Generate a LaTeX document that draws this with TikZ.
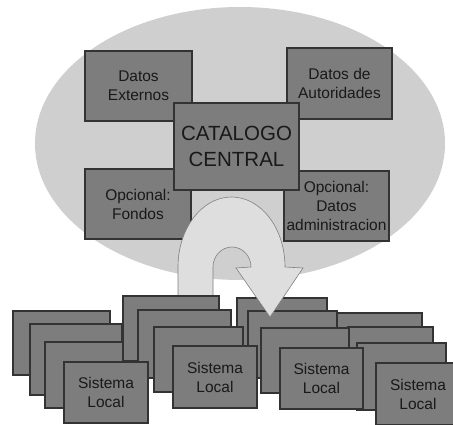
\documentclass[tikz,border=0pt]{standalone}
\usepackage{fontspec}
\setmainfont{Liberation Sans}
\definecolor{ellfill}{gray}{0.81}
\definecolor{arrfill}{gray}{0.87}
\definecolor{arrline}{gray}{0.5}
\definecolor{boxfill}{gray}{0.49}
\definecolor{boxline}{gray}{0.2}
\definecolor{txt}{gray}{0.1}
\begin{document}
\begin{tikzpicture}[x=1pt,y=-1pt,
  box/.style={draw=boxline, fill=boxfill, line width=1.6pt, anchor=north west,
    inner sep=0pt, outer sep=0pt, align=center, text=txt,
    font=\fontsize{15.5}{19}\selectfont},
  bigbox/.style={box, font=\fontsize{20.5}{26}\selectfont},
  arrowshape/.style={fill=arrfill, draw=arrline, line width=0.6pt}
]
\useasboundingbox (0,0) rectangle (453,425);
\fill[white] (0,0) rectangle (453,425);
% background ellipse
\fill[ellfill] (240,143.5) ellipse [x radius=205, y radius=136.5];

% top boxes
\node[box, minimum width=107pt, minimum height=70pt] (ext) at (85,51) {Datos\\Externos};
\node[box, minimum width=105pt, minimum height=71pt] (aut) at (287,48) {Datos de\\Autoridades};
\node[box, minimum width=106pt, minimum height=70pt] (fon) at (85,169) {Opcional:\\Fondos};
\node[box, minimum width=105pt, minimum height=70pt] (adm) at (284,171) {Opcional:\\Datos\\administracion};
\node[bigbox, minimum width=125pt, minimum height=87pt] (cat) at (174,103) {CATALOGO\\CENTRAL};

% local systems, back layers
\node[box, minimum width=97pt, minimum height=64pt] (g1a) at (13,311) {};
\node[box, minimum width=92pt, minimum height=71pt] (g1b) at (30,324) {};
\node[box, minimum width=88pt, minimum height=66pt] (g1c) at (45,342) {};
\node[box, minimum width=90pt, minimum height=64pt] (g3a) at (237,298) {};
\node[box, minimum width=89pt, minimum height=67pt] (g3b) at (248,311) {};

% curved arrow
\draw[arrowshape] (178,297) -- (178,267)
  arc[start angle=180, end angle=360, x radius=53.5, y radius=70]
  -- (303,268) -- (270,317) -- (236,268) -- (251,267)
  arc[start angle=0, end angle=-180, x radius=19, y radius=20]
  -- (213,297) -- cycle;

\node[box, minimum width=96pt, minimum height=65pt] (g2a) at (123,296) {};
\node[box, minimum width=93pt, minimum height=68pt] (g2b) at (138,310) {};
\node[box, minimum width=84pt, minimum height=61pt] (g1d) at (64,362) {Sistema\\Local};
\node[box, minimum width=89pt, minimum height=65pt] (g2c) at (154,327) {};
\node[box, minimum width=84pt, minimum height=62pt] (g2d) at (173,346) {Sistema\\Local};
\node[box, minimum width=85pt, minimum height=64pt] (g4a) at (337,313) {};
\node[box, minimum width=85pt, minimum height=67pt] (g4b) at (348,327) {};
\node[box, minimum width=89pt, minimum height=67pt] (g4c) at (357,343) {};
\node[box, minimum width=88pt, minimum height=65pt] (g3c) at (261,328) {};
\node[box, minimum width=83pt, minimum height=61pt] (g3d) at (280,348) {Sistema\\Local};
\node[box, minimum width=84pt, minimum height=62pt] (g4d) at (376,363) {Sistema\\Local};
\end{tikzpicture}
\end{document}
